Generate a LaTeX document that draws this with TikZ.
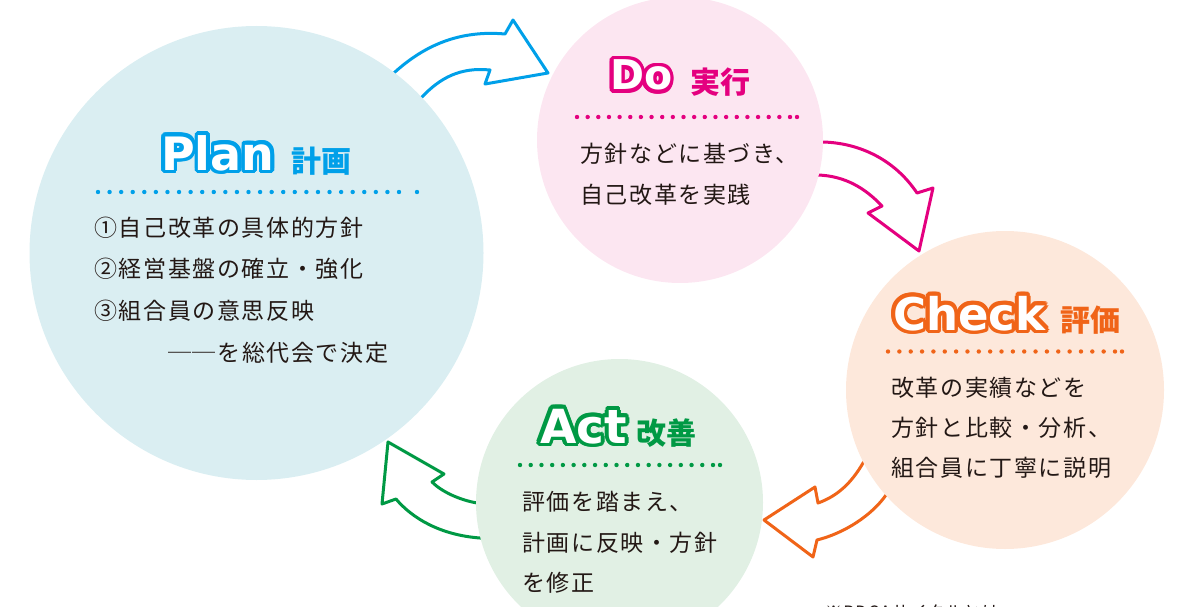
\documentclass[tikz,border=0pt]{standalone}
\usepackage{fontspec}
\usepackage{tikz}
\usetikzlibrary{positioning}
\newfontfamily\jpFont{Noto Sans CJK JP}[LetterSpace=7]
\newfontfamily\jpTitleFont{Noto Sans CJK JP}
\newfontfamily\latinTitleFont{DejaVu Sans}
\definecolor{planColor}{RGB}{0,160,233}
\definecolor{planFill}{RGB}{218,238,242}
\definecolor{doColor}{RGB}{228,0,127}
\definecolor{doFill}{RGB}{252,230,241}
\definecolor{checkColor}{RGB}{240,100,24}
\definecolor{checkFill}{RGB}{253,232,219}
\definecolor{actColor}{RGB}{0,153,68}
\definecolor{actFill}{RGB}{225,240,228}
\definecolor{textColor}{RGB}{35,24,21}
\tikzstyle{diagram} = [x = 1pt, y = -1pt]
\tikzstyle{stageCircle} = [circle, inner sep = 0, draw = none]
\tikzstyle{cycleArrow} = [fill = white, line width = 3pt, line join = round]
\tikzstyle{bodyText} = [font = \jpFont\fontsize{23}{23}\selectfont, text = textColor, anchor = base west, inner sep = 0]
\tikzstyle{noteText} = [font = \jpFont\fontsize{17}{17}\selectfont, text = textColor, anchor = base west, inner sep = 0]
\tikzstyle{titleKanji} = [font = \jpTitleFont\bfseries\fontsize{30}{30}\selectfont, anchor = base west, inner sep = 0]
\tikzset{titleLatin/.style = {font = \latinTitleFont\bfseries\fontsize{#1}{#1}\selectfont, anchor = base west, inner sep = 0}}
\newcommand{\stageTitle}[5]{
  \foreach \ang in {0,20,...,340} {
    \node [titleLatin = #4, text = #3, shift = {(\ang:3.6)}] at #2 {#5};
    \node [titleLatin = #4, text = #3, shift = {(\ang:1.8)}] at #2 {#5};
  }
  \node [titleLatin = #4, text = white] (#1) at #2 {#5};
}
\newcommand{\dotRow}[6]{
  \foreach \i in {0,...,#5} {
    \fill [#1] ({#2 + (#3 - #2) * \i / #5}, #4) circle (2.2pt);
  }
  \fill [#1] (#6, #4) circle (2.2pt);
}

\begin{document}
\begin{tikzpicture}[diagram]
  \useasboundingbox (0,0) rectangle (1177,607);
  \clip (0,0) rectangle (1177,607);

  % arrows go under the circles
  \draw [cycleArrow, draw = planColor] (388,80) -- (395,72) .. controls (425,45) and (460,30) .. (505,34) -- (513,20) -- (548,73) -- (485,84) -- (490,70) .. controls (460,67) and (440,78) .. (422,97) -- (414,106) -- cycle;
  \draw [cycleArrow, draw = doColor] (808,143) -- (823,142) .. controls (860,143) and (895,160) .. (917,193) -- (933,188) -- (919,251) -- (868,213) -- (882,206) .. controls (865,188) and (845,176) .. (818,175) -- (806,176) -- cycle;
  \draw [cycleArrow, draw = checkColor] (872,452) -- (863,463) .. controls (852,482) and (838,496) .. (818,503) -- (815,487) -- (764,520) -- (813,557) -- (817,540) .. controls (845,533) and (872,515) .. (886,495) -- (896,484) -- cycle;
  \draw [cycleArrow, draw = actColor] (490,504) -- (477,503) .. controls (460,500) and (442,492) .. (432,482) -- (444,474) -- (388,442) -- (382,504) -- (396,499) .. controls (412,518) and (440,535) .. (480,538) -- (493,538) -- cycle;

  \node [stageCircle, fill = planFill, minimum size = 454] (plan) at (256.5,253) {};
  \node [stageCircle, fill = doFill, minimum size = 286] (do) at (680,140) {};
  \node [stageCircle, fill = checkFill, minimum size = 318] (check) at (1005,390) {};
  \node [stageCircle, fill = actFill, minimum size = 287] (act) at (619.5,502.5) {};

  % Plan
  \stageTitle{planTitle}{(161,170)}{planColor}{46}{Plan}
  \node [titleKanji, text = planColor] (planKanji) at (291,172) {計画};
  \dotRow{planColor}{98}{399}{192}{26}{417}
  \node [bodyText] (planLineA) at (94,236) {①自己改革の具体的方針};
  \node [bodyText] (planLineB) at (94,277) {②経営基盤の確立・強化};
  \node [bodyText] (planLineC) at (94,319) {③組合員の意思反映};
  \node [bodyText] (planLineD) at (168,361) {──を総代会で決定};

  % Do
  \stageTitle{doTitle}{(610,90)}{doColor}{41}{Do}
  \node [titleKanji, text = doColor] (doKanji) at (690,94) {実行};
  \dotRow{doColor}{577}{790}{117}{20}{797}
  \node [bodyText] (doLineA) at (580,162) {方針などに基づき、};
  \node [bodyText] (doLineB) at (580,203) {自己改革を実践};

  % Check
  \stageTitle{checkTitle}{(893,330)}{checkColor}{45}{Check}
  \node [titleKanji, text = checkColor] (checkKanji) at (1060,331) {評価};
  \dotRow{checkColor}{888}{1115}{351.5}{20}{1122}
  \node [bodyText] (checkLineA) at (891,396) {改革の実績などを};
  \node [bodyText] (checkLineB) at (891,436) {方針と比較・分析、};
  \node [bodyText] (checkLineC) at (891,476) {組合員に丁寧に説明};

  % Act
  \stageTitle{actTitle}{(540,443)}{actColor}{47}{Act}
  \node [titleKanji, text = actColor] (actKanji) at (636,444) {改善};
  \dotRow{actColor}{520}{713}{465}{18}{720}
  \node [bodyText] (actLineA) at (522,510) {評価を踏まえ、};
  \node [bodyText] (actLineB) at (522,551) {計画に反映・方針};
  \node [bodyText] (actLineC) at (522,591) {を修正};

  \node [noteText] (pdcaNote) at (825,618) {※PDCAサイクルとは};
\end{tikzpicture}
\end{document}
